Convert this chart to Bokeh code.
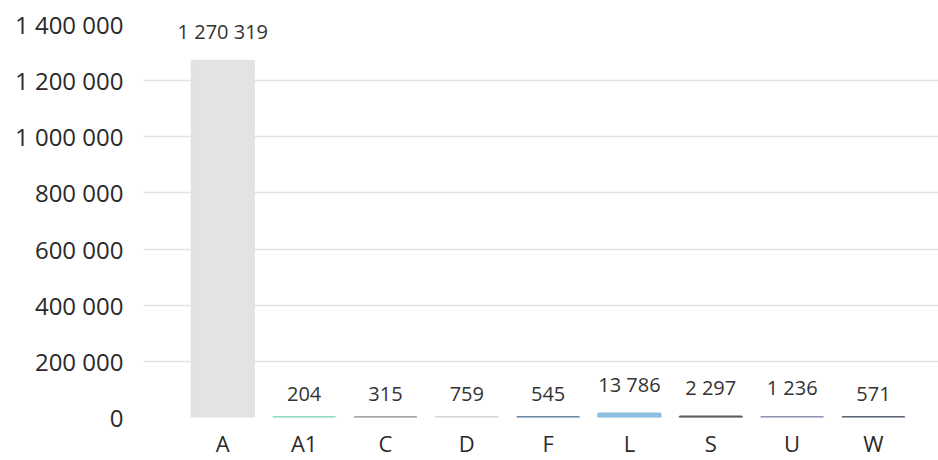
from bokeh.plotting import figure
from bokeh.models import ColumnDataSource, FixedTicker, Range1d
from bokeh.embed import file_html
from bokeh.resources import INLINE
from bokeh.core.properties import value

categories = ["A", "A1", "C", "D", "F", "L", "S", "U", "W"]
counts = [1270319, 204, 315, 759, 545, 13786, 2297, 1236, 571]
colors = ["#e3e3e3", "#6fd0b1", "#8a8a8a", "#d2d6da", "#6a88a8",
          "#8ec0e0", "#5e5e5e", "#8d93b1", "#5c6579"]
y_ticks = [0, 200000, 400000, 600000, 800000, 1000000, 1200000, 1400000]


def fmt(v):
    return f"{v:,}".replace(",", " ")


xs = list(range(len(categories)))
src = ColumnDataSource(dict(x=xs, top=counts, color=colors,
                            label=[fmt(v) for v in counts]))

p = figure(width=938, height=460, output_backend="svg", toolbar_location=None,
           x_range=Range1d(-0.975, 8.8), y_range=Range1d(0, 1400000),
           min_border_left=143, min_border_right=0, min_border_top=24,
           min_border_bottom=42)
p.outline_line_color = None
p.background_fill_color = "white"
p.border_fill_color = "white"

p.vbar(x="x", top="top", width=0.76, bottom=0, source=src,
       fill_color="color", line_color="color", line_width=2.5)

p.text(x="x", y="top", text="label", source=src,
       text_align="center", text_baseline="bottom", y_offset=-16,
       text_font=value("Open Sans"), text_font_size="20px",
       text_color="#333333")

p.xgrid.grid_line_color = None
p.ygrid.grid_line_color = "#e2e2e2"
p.ygrid.grid_line_width = 1.5

p.yaxis.ticker = FixedTicker(ticks=y_ticks)
p.yaxis.major_label_overrides = {t: fmt(t) for t in y_ticks}
p.xaxis.ticker = FixedTicker(ticks=xs)
p.xaxis.major_label_overrides = {i: c for i, c in enumerate(categories)}

for ax in (p.xaxis, p.yaxis):
    ax.axis_line_color = None
    ax.major_tick_line_color = None
    ax.minor_tick_line_color = None
    ax.major_tick_out = 0
    ax.major_tick_in = 0
    ax.minor_tick_out = 0
    ax.minor_tick_in = 0
    ax.major_label_text_font = "Open Sans"
    ax.major_label_text_color = "#2a2a2a"
p.yaxis.major_label_text_font_size = "24px"
p.xaxis.major_label_text_font_size = "22px"
p.yaxis.major_label_standoff = 20
p.xaxis.major_label_standoff = 10

open("out.html", "w").write(file_html(p, INLINE))
